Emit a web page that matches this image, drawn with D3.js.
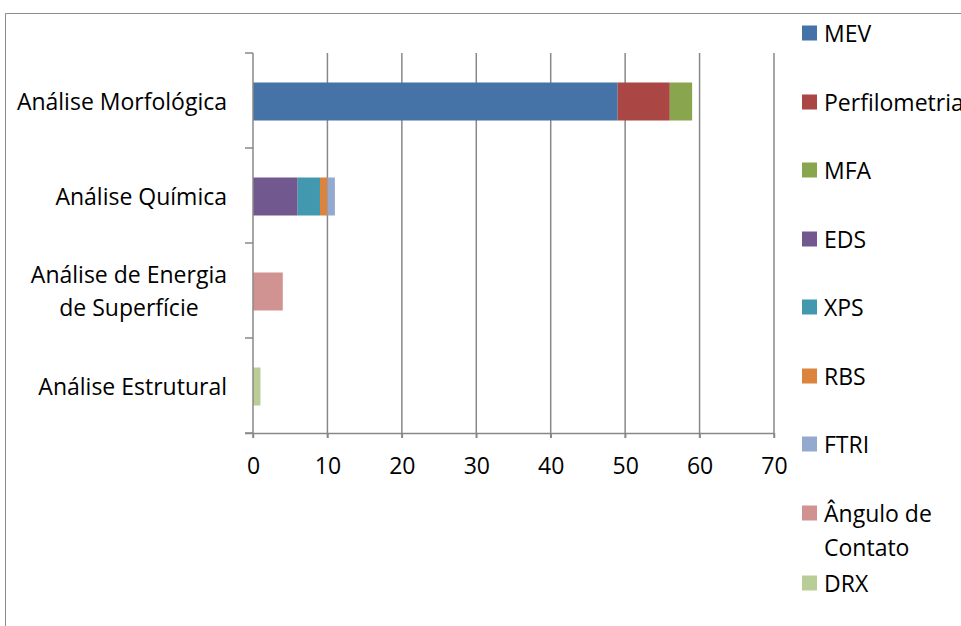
<!DOCTYPE html>
<html>
<head>
<meta charset="utf-8">
<script src="https://cdn.jsdelivr.net/npm/d3@7"></script>
<style>
  html, body { margin: 0; padding: 0; background: #fff; overflow: hidden; }
  svg text { font-family: "Open Sans", sans-serif; fill: #000; }
</style>
</head>
<body>
<svg id="chart" width="961" height="626"></svg>
<script>
// Categories, listed top to bottom ("\n" marks a line break in the label)
const categories = [
  "Análise Morfológica",
  "Análise Química",
  "Análise de Energia\nde Superfície",
  "Análise Estrutural"
];

// Series names (legend order) and their colours
const seriesNames = ["MEV", "Perfilometria", "MFA", "EDS", "XPS", "RBS", "FTRI", "Ângulo de\nContato", "DRX"];
const seriesColors = ["#4572A7", "#AA4643", "#89A54E", "#71588F", "#4198AF", "#DB843D", "#93A9CF", "#D19392", "#B9CD96"];

// Count per category for each series
const MEV           = [49, 0, 0, 0];
const Perfilometria = [7, 0, 0, 0];
const MFA           = [3, 0, 0, 0];
const EDS           = [0, 6, 0, 0];
const XPS           = [0, 3, 0, 0];
const RBS           = [0, 1, 0, 0];
const FTRI          = [0, 1, 0, 0];
const AnguloContato = [0, 0, 4, 0];
const DRX           = [0, 0, 0, 1];
const seriesValues = [MEV, Perfilometria, MFA, EDS, XPS, RBS, FTRI, AnguloContato, DRX];

// x-axis ticks
const xTicks = [0, 10, 20, 30, 40, 50, 60, 70];

// Table for d3.stack: one row per category, one column per series
const rows = categories.map((c, i) => {
  const r = { category: c };
  seriesNames.forEach((s, j) => { r[s] = seriesValues[j][i]; });
  return r;
});
const stacked = d3.stack().keys(seriesNames)(rows);

const svg = d3.select("#chart");
const gridColor = "#888888";
const fontSize = 23;

// Outer chart-area frame (left and top edges)
svg.append("path")
  .attr("d", "M5.5,626 V13.5 H961")
  .attr("fill", "none")
  .attr("stroke", "#8c8c8c")
  .attr("stroke-width", 1);

const x = d3.scaleLinear().domain([0, 70]).range([253, 774]);
const y = d3.scaleBand().domain(categories).range([53, 433]).padding(0);
const barH = y.bandwidth() / 2.5;
const barOff = (y.bandwidth() - barH) / 2;

// Vertical gridlines, extended below the axis as tick marks
const grid = svg.append("g");
grid.selectAll("line")
  .data(xTicks.filter(t => t > 0))
  .join("line")
  .attr("x1", d => x(d)).attr("x2", d => x(d))
  .attr("y1", y.range()[0]).attr("y2", y.range()[1] + 5)
  .attr("stroke", gridColor)
  .attr("stroke-width", 1.5);

// Bars
svg.append("g")
  .selectAll("g")
  .data(stacked)
  .join("g")
  .attr("fill", (d, i) => seriesColors[i])
  .selectAll("rect")
  .data(d => d.filter(p => p[1] - p[0] > 0))
  .join("rect")
  .attr("x", d => x(d[0]))
  .attr("width", d => x(d[1]) - x(d[0]))
  .attr("y", d => y(d.data.category) + barOff + 1)
  .attr("height", barH);

// Category (vertical) axis
const yAxisG = svg.append("g");
yAxisG.append("line")
  .attr("x1", x(0)).attr("x2", x(0))
  .attr("y1", y.range()[0]).attr("y2", y.range()[1] + 5)
  .attr("stroke", gridColor).attr("stroke-width", 1.5);
const yTickPos = d3.range(categories.length + 1).map(i => y.range()[0] + i * y.step());
yAxisG.selectAll("line.tick")
  .data(yTickPos)
  .join("line")
  .attr("class", "tick")
  .attr("x1", x(0) - 8).attr("x2", x(0))
  .attr("y1", d => d).attr("y2", d => d)
  .attr("stroke", gridColor).attr("stroke-width", 1.5);

// Category labels, multi-line labels centred within a right-aligned block
const lineH = 33;
categories.forEach(c => {
  const lines = c.split("\n");
  const cy = y(c) + y.bandwidth() / 2;
  const t = svg.append("text")
    .attr("font-size", fontSize)
    .attr("dominant-baseline", "central");
  lines.forEach((ln, k) => {
    t.append("tspan")
      .attr("y", cy + (k - (lines.length - 1) / 2) * lineH)
      .text(ln);
  });
  const widths = [];
  t.selectAll("tspan").each(function () { widths.push(this.getComputedTextLength()); });
  const maxW = d3.max(widths);
  const right = 227;
  t.selectAll("tspan").attr("x", (d, k) => right - maxW / 2 - widths[k] / 2);
});

// Value (horizontal) axis
const xAxisG = svg.append("g").attr("transform", `translate(0,${y.range()[1]})`);
xAxisG.call(d3.axisBottom(x).tickValues(xTicks).tickSize(5).tickPadding(20).tickSizeOuter(0));
xAxisG.select(".domain").attr("stroke", gridColor).attr("stroke-width", 1.5)
  .attr("d", `M${x(0) - 8},0.5H${x(70)}`);
xAxisG.selectAll(".tick line").attr("stroke", gridColor).attr("stroke-width", 1.5);
xAxisG.selectAll(".tick text")
  .attr("font-size", fontSize)
  .attr("font-family", "'Open Sans', sans-serif")
  .attr("fill", "#000");

// Legend
const legendY = [33, 102, 170, 239, 307, 376, 444, 513, 583];
const legend = svg.append("g");
seriesNames.forEach((s, i) => {
  const ly = legendY[i];
  legend.append("rect")
    .attr("x", 802).attr("y", ly - 7.5)
    .attr("width", 15).attr("height", 15)
    .attr("fill", seriesColors[i]);
  const t = legend.append("text")
    .attr("font-size", fontSize)
    .attr("dominant-baseline", "central");
  s.split("\n").forEach((ln, k) => {
    t.append("tspan").attr("x", 824).attr("y", ly + k * 34).text(ln);
  });
});
</script>
</body>
</html>
